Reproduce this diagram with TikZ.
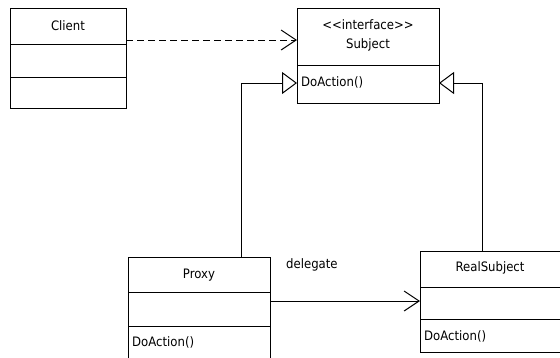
\documentclass[tikz,border=0pt]{standalone}
\usepackage{fontspec}
\setmainfont{DejaVu Sans}[FakeStretch=0.9]
\usetikzlibrary{arrows.meta}
\begin{document}
\begin{tikzpicture}[x=1pt,y=-1pt,
  umlbox/.style={draw,line width=1pt,rectangle,anchor=north west,inner sep=0pt},
  lbl/.style={inner sep=0pt,font=\fontsize{13}{15}\selectfont},
  lline/.style={line width=1pt},
  openarrow/.style={line width=1pt,-{Straight Barb[length=15pt,width=20pt,line width=1pt]}},
  inherit/.style={line width=1pt,-{Triangle[open,length=15pt,width=22pt,line width=1pt,fill=white]}}]
\useasboundingbox (0,0) rectangle (560,357);
\clip (0,0) rectangle (560,357);
\fill[white] (0,0) rectangle (560,357);
% Client
\node[umlbox,minimum width=116pt,minimum height=100pt] (client) at (10,8) {};
\draw[lline] (10,44) -- (126,44);
\draw[lline] (10,77) -- (126,77);
\node[lbl] (clientname) at (68,26) {Client};
% Subject
\node[umlbox,minimum width=142pt,minimum height=95pt] (subject) at (297,8) {};
\draw[lline] (297,65) -- (439,65);
\node[lbl] (subjst) at (368,25) {{<}{<}interface{>}{>}};
\node[lbl] (subjname) at (368,45) {Subject};
\node[lbl,anchor=west] (subjop) at (301,82) {DoAction()};
% Proxy
\node[umlbox,minimum width=142pt,minimum height=120pt] (proxy) at (128,257) {};
\draw[lline] (128,292) -- (270,292);
\draw[lline] (128,326) -- (270,326);
\node[lbl] (proxyname) at (199,275) {Proxy};
\node[lbl,anchor=west] (proxyop) at (132,342) {DoAction()};
% RealSubject
\node[umlbox,minimum width=142pt,minimum height=101pt] (real) at (420,251) {};
\draw[lline] (420,287) -- (562,287);
\draw[lline] (420,319) -- (562,319);
\node[lbl] (realname) at (490,268) {RealSubject};
\node[lbl,anchor=west] (realop) at (424,336) {DoAction()};
% connectors
\coordinate (cstart) at (126,40);
\coordinate (cend) at (297,40);
\draw[openarrow,dash pattern=on 7pt off 4pt] (cstart) -- (cend);
\coordinate (pstart) at (241,257);
\coordinate (pend) at (297,83);
\draw[inherit] (pstart) |- (pend);
\coordinate (rstart) at (482,251);
\coordinate (rend) at (439,83);
\draw[inherit] (rstart) |- (rend);
\coordinate (dstart) at (270,301);
\coordinate (dend) at (420,301);
\draw[openarrow] (dstart) -- (dend);
\node[lbl,anchor=west] (delegate) at (286,265) {delegate};
\end{tikzpicture}
\end{document}
